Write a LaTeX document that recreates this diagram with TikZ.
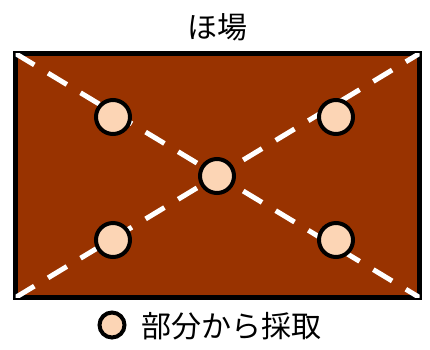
\documentclass[tikz,border=0pt]{standalone}
\usepackage{fontspec}
\newfontfamily\jpfont{Noto Sans CJK JP}
\definecolor{soil}{HTML}{993300}
\definecolor{sample}{HTML}{FCD5B5}
\begin{document}
\begin{tikzpicture}[x=1pt,y=-1pt,
  fieldbox/.style={draw=black,fill=soil,line width=4.5pt},
  diag/.style={draw=white,line width=5pt,dash pattern=on 22pt off 16pt},
  spot/.style={circle,draw=black,fill=sample,line width=4pt,minimum size=34pt,inner sep=0pt},
  label/.style={font=\jpfont\fontsize{30}{34}\selectfont,inner sep=0pt}]
  \useasboundingbox (0,0) rectangle (430,349);
  % field
  \coordinate (tl) at (15.5,53.5);
  \coordinate (tr) at (419.5,53.5);
  \coordinate (bl) at (15.5,297.5);
  \coordinate (br) at (419.5,297.5);
  \draw[fieldbox] (tl) rectangle (br);
  \begin{scope}
    \clip (tl) rectangle (br);
    \draw[diag] (tl) -- (br);
    \draw[diag] (bl) -- (tr);
  \end{scope}
  \node[label] (title) at (217,27) {ほ場};
  % sampling points
  \node[spot] (p1) at (113,117) {};
  \node[spot] (p2) at (336,117) {};
  \node[spot] (p3) at (217,176) {};
  \node[spot] (p4) at (113,240) {};
  \node[spot] (p5) at (336,240) {};
  % legend
  \node[spot,minimum size=25pt] (key) at (112,325) {};
  \node[label,anchor=west] (keytext) at (141,326) {部分から採取};
\end{tikzpicture}
\end{document}
